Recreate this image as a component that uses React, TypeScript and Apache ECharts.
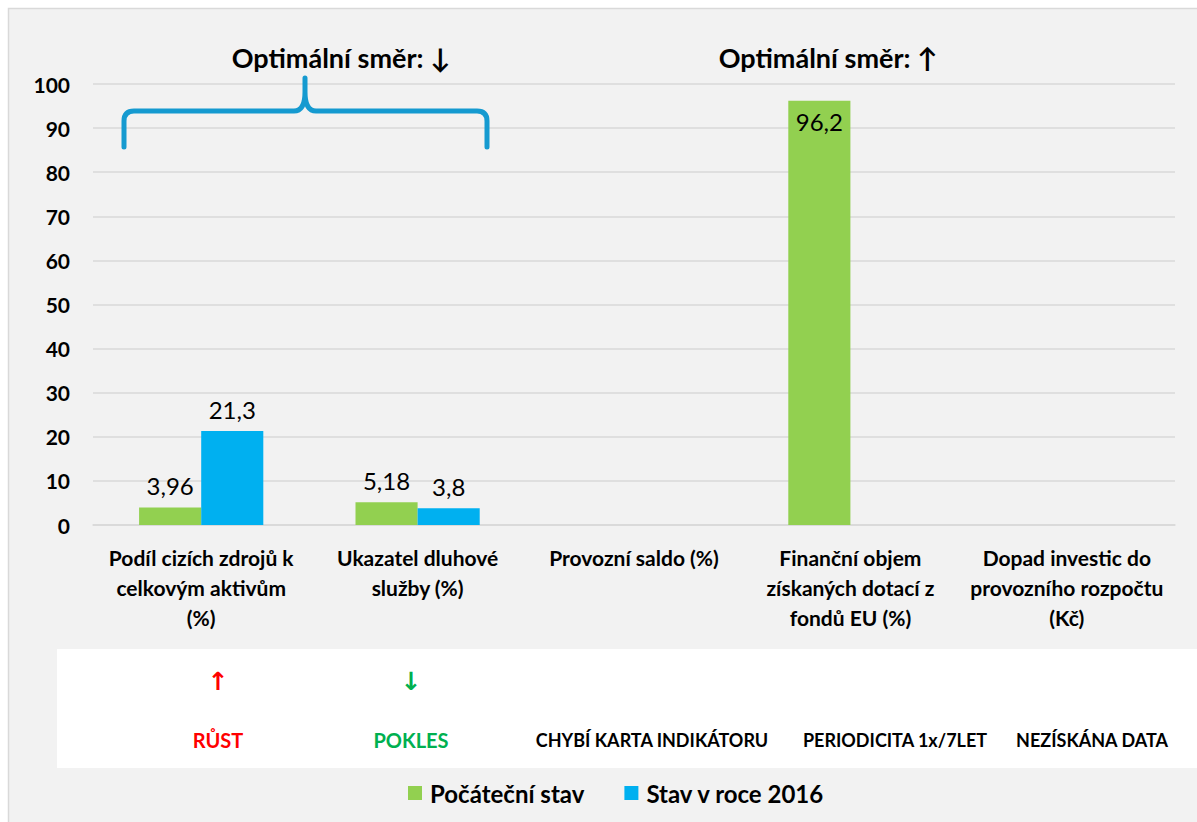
import React, { useEffect, useRef } from "react";
import * as echarts from "echarts";

const categories = [
  "Podíl cizích zdrojů k\ncelkovým aktivům\n(%)",
  "Ukazatel dluhové\nslužby (%)",
  "Provozní saldo (%)",
  "Finanční objem\nzískaných dotací z\nfondů EU (%)",
  "Dopad investic do\nprovozního rozpočtu\n(Kč)",
];
const seriesNames = ["Počáteční stav", "Stav v roce 2016"];
const initialValues: (number | null)[] = [3.96, 5.18, null, 96.2, null];
const values2016: (number | null)[] = [21.3, 3.8, null, null, null];
const statusTexts = ["RŮST", "POKLES", "CHYBÍ KARTA INDIKÁTORU", "PERIODICITA 1x/7LET", "NEZÍSKÁNA DATA"];
const directionTitles = ["Optimální směr: ↓", "Optimální směr: ↑"];

const FONT = 'Lato, "DejaVu Sans", sans-serif';
const GREEN = "#92d050";
const BLUE = "#00b0f0";

const fmt = (p: any) => (p.value == null ? "" : String(p.value).replace(".", ","));

export default function App() {
  const ref = useRef<HTMLDivElement>(null);
  useEffect(() => {
    document.body.style.margin = "0";
    echarts.graphic.registerShape(
      "brace",
      echarts.graphic.extendPath(
        "M124,147 L124,121 Q124,111 134,111 L294,111 Q305,111 305,92 L305,78 M305,92 Q305,111 316,111 L477,111 Q487,111 487,121 L487,147",
        {}
      )
    );
    const chart = echarts.init(ref.current!, null, { renderer: "svg" });
    const statusX = [218, 411, 652, 895, 1092];
    const statusColors = ["#ff0000", "#00b050", "#000", "#000", "#000"];
    chart.setOption({
      animation: false,
      backgroundColor: "#ffffff",
      textStyle: { fontFamily: FONT },
      grid: { left: 93, right: 22, top: 84, bottom: 297, containLabel: false },
      legend: {
        data: seriesNames,
        left: 403,
        top: 776,
        icon: "rect",
        itemWidth: 14,
        itemHeight: 14,
        itemGap: 40,
        textStyle: { fontFamily: FONT, fontWeight: "bold", fontSize: 24, color: "#000", padding: [0, 0, 0, 3] },
      },
      xAxis: {
        type: "category",
        data: categories,
        axisLine: { lineStyle: { color: "#d9d9d9", width: 1.5 } },
        axisTick: { show: false },
        axisLabel: {
          interval: 0,
          margin: 17,
          fontFamily: FONT,
          fontWeight: "bold",
          fontSize: 21,
          lineHeight: 30,
          color: "#000",
        },
      },
      yAxis: {
        type: "value",
        min: 0,
        max: 100,
        interval: 10,
        axisLine: { show: false },
        axisTick: { show: false },
        axisLabel: { margin: 23, fontFamily: FONT, fontWeight: "bold", fontSize: 21, color: "#000" },
        splitLine: { lineStyle: { color: "#d9d9d9", width: 1.5 } },
      },
      series: [
        {
          name: seriesNames[0],
          type: "bar",
          data: initialValues.map((v, i) =>
            i === 3
              ? { value: v, label: { position: "insideTop", distance: 9 } }
              : v
          ),
          itemStyle: { color: GREEN },
          barGap: "0%",
          barCategoryGap: "42.6%",
          label: { show: true, position: "top", distance: 10, formatter: fmt, fontFamily: FONT, fontSize: 24, color: "#000" },
        },
        {
          name: seriesNames[1],
          type: "bar",
          data: values2016,
          itemStyle: { color: BLUE },
          barGap: "0%",
          barCategoryGap: "42.6%",
          label: { show: true, position: "top", distance: 10, formatter: fmt, fontFamily: FONT, fontSize: 24, color: "#000" },
        },
      ],
      graphic: [
        {
          type: "rect",
          z: -10,
          silent: true,
          shape: { x: 8.5, y: 8.5, width: 1200, height: 820 },
          style: { fill: "#f2f2f2", stroke: "#d9d9d9", lineWidth: 1.5 },
        },
        {
          type: "rect",
          z: -9,
          silent: true,
          shape: { x: 57, y: 649, width: 1140, height: 119 },
          style: { fill: "#ffffff" },
        },
        {
          type: "brace",
          x: 0,
          y: 0,
          z: 10,
          style: { fill: "none", stroke: "#159ad0", lineWidth: 5, lineCap: "round", lineJoin: "round" },
        },
        {
          type: "text",
          x: 341,
          y: 57,
          z: 10,
          style: {
            text: directionTitles[0],
            fontFamily: FONT,
            fontWeight: "bold",
            fontSize: 27,
            fill: "#000",
            align: "center",
            verticalAlign: "middle",
          },
        },
        {
          type: "text",
          x: 828,
          y: 57,
          z: 10,
          style: {
            text: directionTitles[1],
            fontFamily: FONT,
            fontWeight: "bold",
            fontSize: 27,
            fill: "#000",
            align: "center",
            verticalAlign: "middle",
          },
        },
        {
          type: "text",
          x: 218,
          y: 681,
          z: 10,
          style: { text: "↑", fontFamily: '"DejaVu Sans", sans-serif', fontWeight: "bold", fontSize: 25, fill: "#ff0000", align: "center", verticalAlign: "middle" },
        },
        {
          type: "text",
          x: 411,
          y: 681,
          z: 10,
          style: { text: "↓", fontFamily: '"DejaVu Sans", sans-serif', fontWeight: "bold", fontSize: 25, fill: "#00b050", align: "center", verticalAlign: "middle" },
        },
        ...statusTexts.map((t, i) => ({
          type: "text",
          x: statusX[i],
          y: 740,
          z: 10,
          style: {
            text: t,
            fontFamily: FONT,
            fontWeight: "bold",
            fontSize: i < 2 ? 20 : 18,
            fill: statusColors[i],
            align: "center",
            verticalAlign: "middle",
          },
        })),
      ],
    });
    return () => chart.dispose();
  }, []);
  return <div ref={ref} style={{ width: 1197, height: 822 }} />;
}
